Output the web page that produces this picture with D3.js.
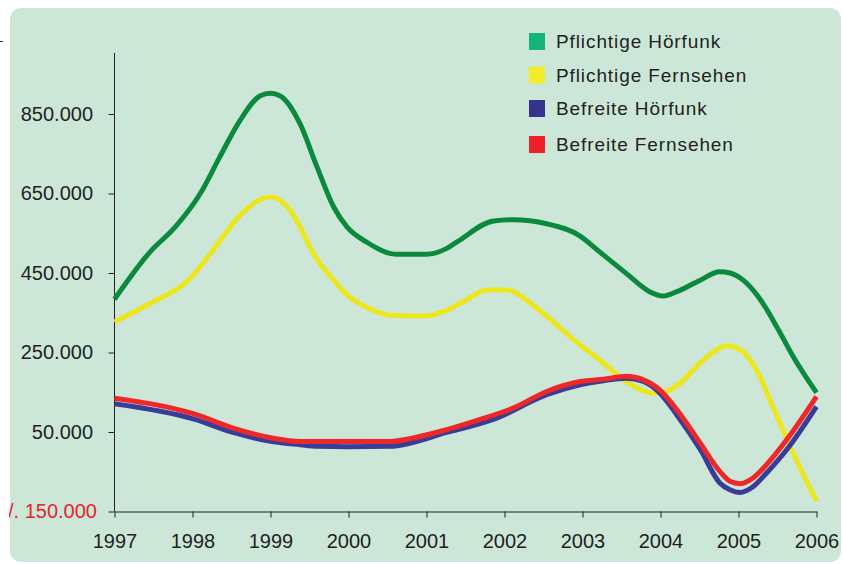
<!DOCTYPE html>
<html>
<head>
<meta charset="utf-8">
<script src="https://cdn.jsdelivr.net/npm/d3@7"></script>
<style>
  body { margin: 0; background: #fff; }
  svg { display: block; font-family: "Liberation Sans", Arial, sans-serif; }
</style>
</head>
<body>
<div class="chart"></div>
<script>
// values in thousands (x = year, fractional)
var seriesNames = ["Pflichtige Hörfunk", "Pflichtige Fernsehen", "Befreite Hörfunk", "Befreite Fernsehen"];
var lineColors = ["#0b8a3e", "#ece71c", "#3a3d98", "#ee2728"];
var legendColors = ["#14b57b", "#f3ec2c", "#36338f", "#ee2128"];

var pflHoerfunk = [
  [1997.0, 384], [1997.46, 504], [1997.78, 566], [1998.10, 650], [1998.35, 742],
  [1998.61, 834], [1998.87, 896], [1999.0, 902], [1999.12, 896], [1999.38, 825],
  [1999.59, 720], [1999.81, 616], [1999.98, 566], [2000.23, 528], [2000.62, 497],
  [2001.0, 497], [2001.26, 512], [2001.39, 528], [2001.86, 581], [2002.11, 584],
  [2002.54, 574], [2002.97, 543], [2003.22, 503], [2003.56, 449], [2003.86, 403],
  [2004.03, 392], [2004.21, 403], [2004.51, 432], [2004.76, 453], [2004.89, 450],
  [2005.06, 432], [2005.27, 386], [2005.49, 315], [2005.70, 240], [2006.0, 149]
];

var pflFernsehen = [
  [1997.0, 327], [1997.46, 374], [1997.97, 436], [1998.23, 499], [1998.61, 595],
  [1998.87, 635], [1999.0, 641], [1999.12, 633], [1999.25, 608], [1999.38, 566],
  [1999.55, 499], [1999.81, 432], [1999.98, 395], [2000.23, 364], [2000.53, 344],
  [2000.96, 342], [2001.22, 353], [2001.51, 382], [2001.77, 407], [2002.03, 407],
  [2002.37, 369], [2002.67, 319], [2002.97, 269], [2003.22, 231], [2003.56, 177],
  [2003.91, 148], [2004.08, 152], [2004.25, 173], [2004.55, 231], [2004.85, 267],
  [2005.02, 257], [2005.23, 206], [2005.44, 114], [2005.70, -3], [2006.0, -124]
];

var befHoerfunk = [
  [1997.0, 121], [1998.01, 83], [1998.52, 49], [1999.02, 26], [1999.38, 18],
  [1999.6, 14], [2000.0, 13], [2000.53, 14], [2001.26, 49], [2001.90, 85],
  [2002.54, 144], [2002.97, 169], [2003.27, 179], [2003.56, 185], [2003.78, 177],
  [2003.99, 148], [2004.21, 93], [2004.51, 6], [2004.76, -78], [2004.89, -95],
  [2005.02, -102], [2005.19, -87], [2005.36, -53], [2005.62, 6], [2006.0, 114]
];

var befFernsehen = [
  [1997.0, 135], [1998.01, 96], [1998.52, 60], [1999.02, 35], [1999.38, 26],
  [1999.8, 26], [2000.53, 26], [2000.83, 35], [2001.26, 56], [2001.68, 81],
  [2002.11, 110], [2002.54, 152], [2002.97, 177], [2003.27, 183], [2003.56, 190],
  [2003.78, 181], [2003.99, 156], [2004.21, 106], [2004.51, 22], [2004.76, -49],
  [2004.89, -74], [2005.02, -80], [2005.19, -65], [2005.36, -32], [2005.62, 31],
  [2006.0, 139]
];

var years = [1997, 1998, 1999, 2000, 2001, 2002, 2003, 2004, 2005, 2006];
var yTicks = [-150, 50, 250, 450, 650, 850];
var yTickLabels = ["./. 150.000", "50.000", "250.000", "450.000", "650.000", "850.000"];

var svgWidth = 843;
var svgHeight = 564;

var svg = d3.select(".chart")
  .append("svg")
  .attr("width", svgWidth)
  .attr("height", svgHeight);

// panel background
svg.append("rect")
  .attr("x", 10)
  .attr("y", 8)
  .attr("width", 831)
  .attr("height", 554)
  .attr("rx", 11)
  .attr("fill", "#cce7d8");

// small stray mark at the left edge
svg.append("line")
  .attr("x1", 0).attr("x2", 3)
  .attr("y1", 41.5).attr("y2", 41.5)
  .attr("stroke", "#333")
  .attr("stroke-width", 1);

var x = d3.scaleLinear()
  .domain([1997, 2006])
  .range([114.5, 816.5]);

var y = d3.scaleLinear()
  .domain([-150, 50])
  .range([511.5, 432]);

var yTop = 53;

// y axis
var leftAxis = d3.axisLeft(y)
  .tickValues(yTicks)
  .tickSize(6)
  .tickFormat("");

var yAxis = svg.append("g")
  .attr("transform", "translate(114.5,0)")
  .call(leftAxis);
yAxis.select(".domain").attr("d", `M0,${yTop}V${y(-150)}`);
yAxis.selectAll("line, path").attr("stroke", "#231f20");

// y labels, clipped at the left edge
svg.append("clipPath")
  .attr("id", "labelClip")
  .append("rect")
  .attr("x", 9).attr("y", 0).attr("width", 120).attr("height", svgHeight);

svg.append("g")
  .attr("clip-path", "url(#labelClip)")
  .selectAll("text")
  .data(yTicks)
  .enter()
  .append("text")
  .attr("x", (d, i) => i === 0 ? 97 : 93)
  .attr("y", d => y(d) + 6.5)
  .attr("text-anchor", "end")
  .attr("font-size", "20px")
  .attr("fill", (d, i) => i === 0 ? "#e8232a" : "#231f20")
  .text((d, i) => yTickLabels[i]);

// x axis
var bottomAxis = d3.axisBottom(x)
  .tickValues(years)
  .tickSize(6)
  .tickSizeOuter(0)
  .tickFormat(d3.format("d"));

var xAxis = svg.append("g")
  .attr("transform", `translate(0,${y(-150)})`)
  .call(bottomAxis);
xAxis.selectAll("line, path").attr("stroke", "#231f20");
xAxis.selectAll("text")
  .attr("font-size", "20px")
  .attr("font-family", "Liberation Sans, Arial, sans-serif")
  .attr("fill", "#231f20")
  .attr("y", 36.5)
  .attr("dy", null);

// lines
var line = d3.line()
  .x(d => x(d[0]))
  .y(d => y(d[1]))
  .curve(d3.curveMonotoneX);

var allSeries = [pflHoerfunk, pflFernsehen, befHoerfunk, befFernsehen];

svg.append("g")
  .selectAll("path")
  .data(allSeries)
  .enter()
  .append("path")
  .attr("d", line)
  .attr("fill", "none")
  .attr("stroke", (d, i) => lineColors[i])
  .attr("stroke-width", 5)
  .attr("stroke-linejoin", "round");

// legend
var legendY = [33, 66.5, 100, 136];
var legend = svg.append("g");

legend.selectAll("rect")
  .data(seriesNames)
  .enter()
  .append("rect")
  .attr("x", 529)
  .attr("y", (d, i) => legendY[i])
  .attr("width", 16)
  .attr("height", 17)
  .attr("fill", (d, i) => legendColors[i]);

legend.selectAll("text")
  .data(seriesNames)
  .enter()
  .append("text")
  .attr("x", 556)
  .attr("y", (d, i) => legendY[i] + 15)
  .attr("font-size", "19px")
  .attr("letter-spacing", "0.9px")
  .attr("fill", "#231f20")
  .text(d => d);
</script>
</body>
</html>
